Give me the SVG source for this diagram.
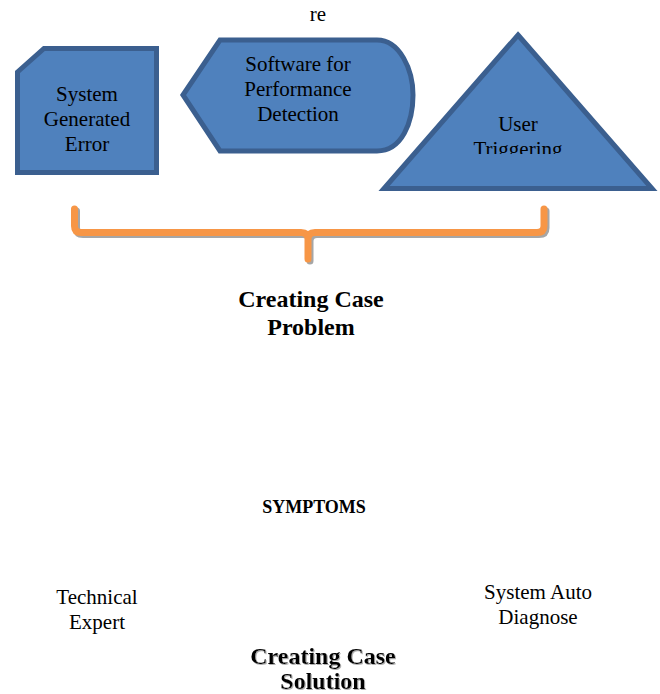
<svg xmlns="http://www.w3.org/2000/svg" width="660" height="694" viewBox="0 0 660 694">
<style>
.shape{fill:#4f81bd;stroke:#3b5f8f;stroke-width:5;stroke-linejoin:miter}
.t{font-family:"Liberation Serif","DejaVu Serif",serif;font-size:21px;fill:#000;text-anchor:middle}
.b{font-family:"Liberation Serif","DejaVu Serif",serif;font-weight:bold;font-size:24px;fill:#000;text-anchor:middle}
.brace{fill:none;stroke-width:7;stroke-linecap:round;stroke-linejoin:round}
</style>
<defs>
<clipPath id="triClip"><rect x="370" y="20" width="300" height="134"/></clipPath>
<filter id="tshadow" x="-5%" y="-20%" width="110%" height="140%">
<feDropShadow dx="1" dy="1" stdDeviation="0.4" flood-color="#b0b0b0" flood-opacity="1"/>
</filter>
</defs>
<rect width="660" height="694" fill="#fff"/>
<g id="label-re"><text class="t" x="318" y="21">re</text></g>
<g id="node-system-error">
<path class="shape" d="M17.5,72 L44,48.5 L156.5,48.5 L156.5,172.5 L17.5,172.5 Z"/>
<text class="t" x="87" y="101">System</text>
<text class="t" x="87" y="126">Generated</text>
<text class="t" x="87" y="151">Error</text>
</g>
<g id="node-software">
<path class="shape" d="M183,95 L220,40 L377,40 C400,40 413,70 413,95 C413,122 402,151 377,151 L220,151 Z"/>
<text class="t" x="298" y="71">Software for</text>
<text class="t" x="298" y="96">Performance</text>
<text class="t" x="298" y="121">Detection</text>
</g>
<g id="node-user">
<path class="shape" d="M518,35 L652,188.5 L384,188.5 Z"/>
<text class="t" x="518" y="131">User</text>
<text class="t" x="518" y="156" clip-path="url(#triClip)">Triggering</text>
</g>
<g id="connectors">
<path class="brace" stroke="#a6a6a6" d="M76.5,211 L76.5,228 Q76.5,234.5 83,234.5 L303,234.5 Q310,234.5 310,241 L310,261 M310,241 Q310,234.5 317,234.5 L539,234.5 Q546,234.5 546,228 L546,211"/>
<path class="brace" stroke="#f79646" d="M74.5,209 L74.5,226 Q74.5,232.5 81,232.5 L301,232.5 Q308,232.5 308,239 L308,259 M308,239 Q308,232.5 315,232.5 L537,232.5 Q544,232.5 544,226 L544,209"/>
</g>
<g id="label-problem">
<text class="b" x="311" y="307">Creating Case</text>
<text class="b" x="311" y="335">Problem</text>
</g>
<g id="label-symptoms"><text class="b" x="314" y="513" style="font-size:18px">SYMPTOMS</text></g>
<g id="label-technical">
<text class="t" x="97" y="604">Technical</text>
<text class="t" x="97" y="629">Expert</text>
</g>
<g id="label-auto">
<text class="t" x="538" y="599">System Auto</text>
<text class="t" x="538" y="624">Diagnose</text>
</g>
<g id="label-solution" filter="url(#tshadow)">
<text class="b" x="323" y="664">Creating Case</text>
<text class="b" x="323" y="689">Solution</text>
</g>
</svg>
